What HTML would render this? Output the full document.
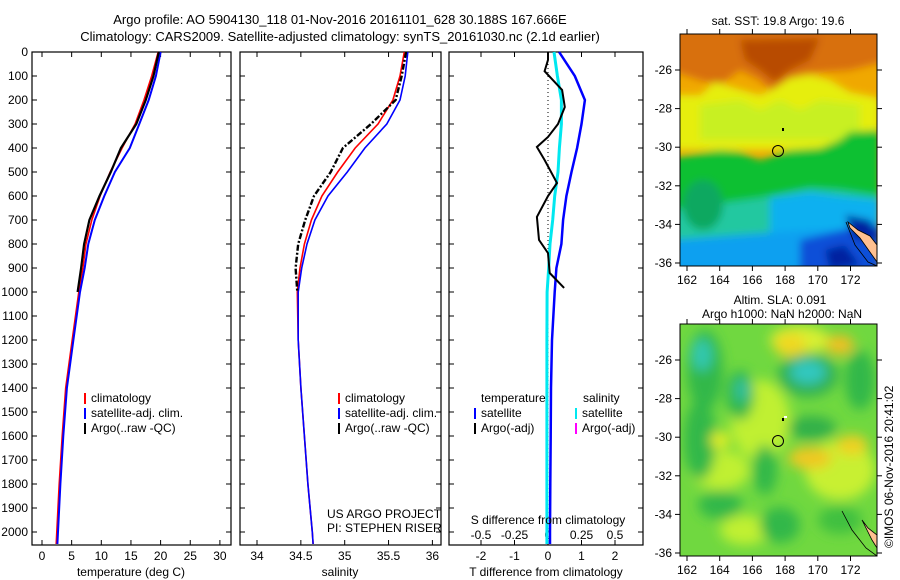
<!DOCTYPE html>
<html><head><meta charset="utf-8"><style>
html,body{margin:0;padding:0;background:#fff;}
svg{display:block;font-family:"Liberation Sans",sans-serif;}
</style></head><body>
<svg id="root" width="900" height="580" viewBox="0 0 900 580" xmlns="http://www.w3.org/2000/svg">
<defs>
<filter id="blur4" x="-20%" y="-20%" width="140%" height="140%"><feGaussianBlur stdDeviation="4"/></filter>
<filter id="blur6" x="-30%" y="-30%" width="160%" height="160%"><feGaussianBlur stdDeviation="6"/></filter>
<clipPath id="clipTop"><rect x="680" y="34" width="197" height="232"/></clipPath>
<clipPath id="clipBot"><rect x="680" y="324" width="197" height="232"/></clipPath>
</defs>
<text x="340" y="24" font-size="13" text-anchor="middle">Argo profile: AO 5904130_118 01-Nov-2016 20161101_628 30.188S 167.666E</text>
<text x="340" y="41" font-size="13" text-anchor="middle">Climatology: CARS2009. Satellite-adjusted climatology: synTS_20161030.nc (2.1d earlier)</text>

<!-- top map -->
<g>
<text x="778" y="25" font-size="12" text-anchor="middle">sat. SST: 19.8 Argo: 19.6</text>
<g clip-path="url(#clipTop)">
<rect x="680" y="34" width="197" height="232" fill="#f0a800"/>
<g filter="url(#blur4)">
<path d="M670,20 L890,20 L890,60 L850,70 L820,72 L800,75 L775,95 L760,80 L740,70 L720,85 L700,80 L670,70Z" fill="#d87010"/>
<path d="M740,40 L820,38 L810,60 L790,70 L775,82 L760,70 L745,60Z" fill="#b84c00"/>
<path d="M670,95 L700,95 L715,82 L735,88 L760,95 L775,88 L790,78 L810,75 L830,80 L850,92 L880,98 L880,150 L670,150Z" fill="#e6ee10"/>
<path d="M700,105 L740,100 L760,110 L780,100 L800,110 L820,100 L860,105 L860,140 L700,140Z" fill="#c8f020"/>
<path d="M670,158 L720,150 L740,152 L760,160 L790,150 L820,148 L840,140 L850,132 L880,130 L880,280 L670,280Z" fill="#10c030"/>
<path d="M670,210 L760,198 L790,192 L810,188 L840,190 L880,196 L880,280 L670,280Z" fill="#20c8a0"/>
<path d="M770,198 L810,192 L840,196 L880,200 L880,280 L770,280Z" fill="#10b0f0"/>
<path d="M670,240 L780,232 L810,230 L880,230 L880,280 L670,280Z" fill="#10a0f0"/>
<path d="M800,240 L850,228 L880,225 L880,280 L800,280Z" fill="#1050d8"/>
<path d="M825,250 L845,245 L860,265 L830,270Z" fill="#0020a0"/>
<path d="M845,215 L870,220 L880,240 L855,240Z" fill="#0020a0"/>
<ellipse cx="703" cy="205" rx="20" ry="25" fill="#10a860"/>
</g>
<path d="M848,222 L858,230 L870,236 L877,245 L877,262 L872,255 L860,238 L850,228Z" fill="#ffc090" stroke="#000" stroke-width="0.8"/>
<path d="M846,222 L855,245 L868,262 L877,266" fill="none" stroke="#000" stroke-width="0.8"/>
</g>
<rect x="680" y="34" width="197" height="232" fill="none" stroke="#000" stroke-width="1"/>
<circle cx="778" cy="151" r="5.5" fill="none" stroke="#000" stroke-width="1"/>
<rect x="782" y="128" width="2" height="3" fill="#000"/>
<g id="mapTopAxes"></g>
</g>

<!-- bottom map -->
<g>
<text x="780" y="304" font-size="12" text-anchor="middle">Altim. SLA: 0.091</text>
<text x="782" y="318" font-size="12" text-anchor="middle">Argo h1000: NaN h2000: NaN</text>
<g clip-path="url(#clipBot)">
<rect x="680" y="324" width="197" height="232" fill="#70d840"/>
<g filter="url(#blur6)">
<ellipse cx="760" cy="420" rx="30" ry="40" fill="#c0f030"/>
<ellipse cx="800" cy="340" rx="30" ry="14" fill="#d8f030"/>
<ellipse cx="720" cy="470" rx="30" ry="20" fill="#c0f030"/>
<ellipse cx="840" cy="470" rx="35" ry="30" fill="#c8f030"/>
<ellipse cx="745" cy="530" rx="25" ry="15" fill="#c0f030"/>
<ellipse cx="705" cy="370" rx="18" ry="40" fill="#30b848"/>
<ellipse cx="700" cy="440" rx="16" ry="40" fill="#30b848"/>
<ellipse cx="702" cy="355" rx="10" ry="16" fill="#30c8b0"/>
<ellipse cx="740" cy="395" rx="14" ry="25" fill="#30b848"/>
<ellipse cx="742" cy="390" rx="7" ry="12" fill="#30c0a0"/>
<ellipse cx="808" cy="375" rx="30" ry="22" fill="#30b050"/>
<ellipse cx="808" cy="372" rx="18" ry="12" fill="#30c8c0"/>
<ellipse cx="860" cy="380" rx="15" ry="30" fill="#30b848"/>
<ellipse cx="790" cy="345" rx="16" ry="12" fill="#f0d820"/>
<ellipse cx="840" cy="345" rx="14" ry="10" fill="#f0c020"/>
<ellipse cx="812" cy="428" rx="24" ry="12" fill="#30b048"/>
<ellipse cx="810" cy="458" rx="22" ry="11" fill="#f0c820"/>
<ellipse cx="852" cy="445" rx="16" ry="10" fill="#f0d020"/>
<ellipse cx="765" cy="470" rx="12" ry="25" fill="#30b848"/>
<ellipse cx="720" cy="505" rx="22" ry="14" fill="#30b848"/>
<ellipse cx="780" cy="525" rx="20" ry="18" fill="#30b848"/>
<ellipse cx="840" cy="520" rx="22" ry="14" fill="#40c040"/>
<ellipse cx="720" cy="440" rx="10" ry="8" fill="#e8f020"/>
</g>
<path d="M862,520 L868,528 L877,535 L877,548 L872,540Z" fill="#ffc090" stroke="#000" stroke-width="0.8"/>
<path d="M842,511 L852,530 L866,548 L877,556" fill="none" stroke="#000" stroke-width="0.8"/>
</g>
<rect x="680" y="324" width="197" height="232" fill="none" stroke="#000" stroke-width="1"/>
<circle cx="778" cy="441" r="5.5" fill="none" stroke="#000" stroke-width="1"/>
<rect x="782" y="418" width="2" height="3" fill="#000"/>
<rect x="784" y="416" width="3" height="2" fill="#fff"/>
<g id="mapBotAxes"></g>
<text x="0" y="0" font-size="12" transform="translate(893,548) rotate(-90)">©IMOS 06-Nov-2016 20:41:02</text>
</g>

<g id="panels"></g>
</svg>
<script>
// ---- data ----
const depthT = [0,100,200,300,400,500,600,700,800,900,1000,1200,1400,1600,1800,2000,2050];
const tempClim = [19.6,18.5,17.2,15.7,13.5,11.5,9.8,8.4,7.4,6.9,6.2,5.1,4.0,3.4,2.9,2.5,2.4];
const tempSat = [20.0,19.2,18.0,16.4,14.8,12.3,10.5,8.9,7.8,7.2,6.4,5.3,4.2,3.6,3.1,2.7,2.6];
const tempArgo = [19.7,18.8,17.5,15.9,13.3,11.6,9.7,8.0,7.1,6.6,6.0];
const depthArgo = [0,100,200,300,400,500,600,700,800,900,1000];
const salClim = [35.68,35.63,35.55,35.38,35.12,34.92,34.74,34.62,34.54,34.49,34.46,34.47,34.50,34.54,34.58,34.63,34.64];
const salSat = [35.72,35.69,35.63,35.48,35.23,35.03,34.81,34.66,34.57,34.51,34.47,34.47,34.50,34.54,34.58,34.63,34.64];
const salArgo = [35.70,35.65,35.58,35.30,34.98,34.84,34.65,34.55,34.47,34.44,34.46];
const tDiffSat = [0.33,0.8,1.1,1.0,0.87,0.7,0.55,0.45,0.4,0.25,0.2,0.12,0.09,0.08,0.07,0.06,0.06];
const sDiffSat = [0.045,0.07,0.1,0.1,0.085,0.075,0.05,0.035,0.015,0.005,-0.007,-0.008,-0.008,-0.008,-0.008,-0.008,-0.008];
const depthTd = [0,33,80,158,229,300,354,396,450,546,600,687,783,838,921,983];
const tDiffArgo = [0,0,-0.1,0.42,0.5,0.3,0,-0.33,-0.1,0.27,0,-0.33,-0.27,0,0.05,0.48];
const depthTicks = [0,100,200,300,400,500,600,700,800,900,1000,1100,1200,1300,1400,1500,1600,1700,1800,1900,2000];
const tempTicks = [0,5,10,15,20,25,30];
const salTicks = [34,34.5,35,35.5,36];
const salTickLabels = ["34","34.5","35","35.5","36"];
const tdTicks = [-2,-1,0,1,2];
const sdTicks = [-0.5,-0.25,0,0.25,0.5];
const sdTickLabels = ["-0.5","-0.25","0","0.25","0.5"];
const latTicks = [-26,-28,-30,-32,-34,-36];
const lonTicks = [162,164,166,168,170,172];

// ---- scales ----
const yD = d => 52 + 0.24*d;
const xT = t => 42 + 5.93*t;
const xS = s => 257 + 87.7*(s-34);
const xTd = v => 548 + 33.5*v;
const xSd = v => 548 + 134*v;
const NS = "http://www.w3.org/2000/svg";
const root = document.getElementById('panels');
function mk(tag, attrs, parent){const e=document.createElementNS(NS,tag);for(const k in attrs)e.setAttribute(k,attrs[k]);(parent||root).appendChild(e);return e;}
function txt(x,y,s,anchor,parent,size){const e=mk('text',{x:x,y:y,'font-size':size||12,'text-anchor':anchor||'middle'},parent);e.textContent=s;return e;}

function frame(x0,x1,name){
  const g=mk('g',{});
  
  
  const r=mk('rect',{x:x0,y:52,width:x1-x0,height:493,fill:'none',stroke:'#000','stroke-width':1.2},g);
  
  
  depthTicks.forEach(d=>{
    mk('line',{x1:x0,x2:x0+5,y1:yD(d),y2:yD(d),stroke:'#000'},g);
    mk('line',{x1:x1-5,x2:x1,y1:yD(d),y2:yD(d),stroke:'#000'},g);
  });
  return g;
}
function line(xs,ds,xf,color,w,g,name,dash){
  const pts=xs.map((v,i)=>xf(v).toFixed(1)+','+yD(ds[i]).toFixed(1)).join(' ');
  const p=mk('polyline',{points:pts,fill:'none',stroke:color,'stroke-width':w},g);
  if(dash)p.setAttribute('stroke-dasharray',dash);
  
  
  return p;
}
function xticks(g,ticks,labels,xf){
  ticks.forEach((t,i)=>{
    mk('line',{x1:xf(t),x2:xf(t),y1:52,y2:57,stroke:'#000'},g);
    mk('line',{x1:xf(t),x2:xf(t),y1:540,y2:545,stroke:'#000'},g);
    const l=txt(xf(t),560,labels[i],'middle',g);
    
    
  });
}
function legend(g,x,y,items){
  items.forEach((it,i)=>{
    mk('rect',{x:x,y:y+i*15-9,width:2,height:11,fill:it[0]},g);
    txt(x+7,y+i*15,it[1],'start',g);
  });
}

// panel 1
const g1=frame(32,231,'temperature-panel');
depthTicks.forEach(d=>{const l=txt(28,yD(d)+4,String(d),'end',g1);
  
  });
xticks(g1,tempTicks,tempTicks.map(String),xT);
line(tempClim,depthT,xT,'#f00',1.6,g1,'temp-climatology-line');
line(tempSat,depthT,xT,'#00f',2,g1,'temp-satellite-line');
line(tempArgo,depthArgo,xT,'#000',2.2,g1,'temp-argo-line');
legend(g1,84,402,[['#f00','climatology'],['#00f','satellite-adj. clim.'],['#000','Argo(..raw -QC)']]);
const t1=txt(131,576,'temperature (deg C)','middle',g1);



// panel 2
const g2=frame(240,441,'salinity-panel');
xticks(g2,salTicks,salTickLabels,xS);
line(salClim,depthT,xS,'#f00',1.6,g2,'sal-climatology-line');
line(salSat,depthT,xS,'#00f',1.6,g2,'sal-satellite-line');
line(salArgo,depthArgo,xS,'#000',2.4,g2,'sal-argo-line','6 2 2 2');
legend(g2,338,402,[['#f00','climatology'],['#00f','satellite-adj. clim.'],['#000','Argo(..raw -QC)']]);
txt(327,518,'US ARGO PROJECT','start',g2);
txt(327,532,'PI: STEPHEN RISER','start',g2);
const t2=txt(340,576,'salinity','middle',g2);



// panel 3
const g3=frame(449,643,'difference-panel');
tdTicks.forEach(t=>{
  mk('line',{x1:xTd(t),x2:xTd(t),y1:52,y2:57,stroke:'#000'},g3);
  mk('line',{x1:xTd(t),x2:xTd(t),y1:540,y2:545,stroke:'#000'},g3);
  txt(xTd(t),560,String(t),'middle',g3);
});
sdTicks.forEach((t,i)=>{const l=txt(xSd(t),539,sdTickLabels[i],'middle',g3);
  
  });
mk('line',{x1:548,x2:548,y1:60,y2:545,stroke:'#000','stroke-dasharray':'1 3'},g3);
line(sDiffSat,depthT,xSd,'#00e8f0',3,g3,'s-diff-satellite-line');
line(tDiffSat,depthT,xTd,'#00f',2.5,g3,'t-diff-satellite-line');
line(tDiffArgo,depthTd,xTd,'#000',2,g3,'t-diff-argo-line');
txt(481,402,'temperature','start',g3);
txt(583,402,'salinity','start',g3);
legend(g3,474,417,[['#00f','satellite'],['#000','Argo(-adj)']]);
legend(g3,575,417,[['#00e8f0','satellite'],['#f0f','Argo(-adj)']]);
txt(548,524,'S difference from climatology','middle',g3);
const t3=txt(546,576,'T difference from climatology','middle',g3);



// map axes
function mapAxes(id,y0){
  const g=document.getElementById(id);
  const yLat=l=>y0+36+(-26-l)*19.3;
  const xLon=l=>687+16.35*(l-162);
  latTicks.forEach(l=>{
    mk('line',{x1:675,x2:680,y1:yLat(l),y2:yLat(l),stroke:'#000'},g);
    mk('line',{x1:877,x2:882,y1:yLat(l),y2:yLat(l),stroke:'#000'},g);
    txt(672,yLat(l)+4,String(l),'end',g);
  });
  lonTicks.forEach(l=>{
    mk('line',{x1:xLon(l),x2:xLon(l),y1:y0-5,y2:y0,stroke:'#000'},g);
    mk('line',{x1:xLon(l),x2:xLon(l),y1:y0+232,y2:y0+237,stroke:'#000'},g);
    txt(xLon(l),y0+250,String(l),'middle',g);
  });
}
mapAxes('mapTopAxes',34);
mapAxes('mapBotAxes',324);
</script>
</body></html>
